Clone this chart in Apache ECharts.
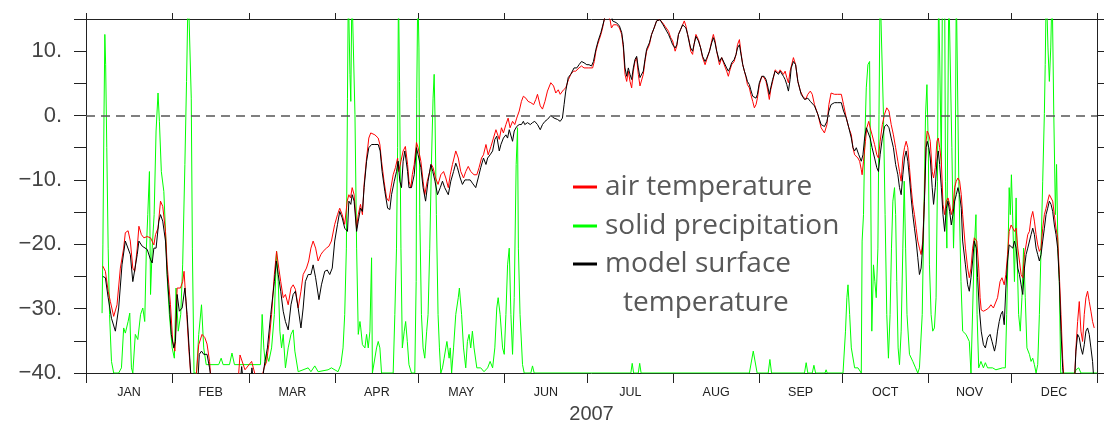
<!DOCTYPE html>
<html>
<head>
<meta charset="utf-8">
<script src="https://cdn.jsdelivr.net/npm/echarts@6/dist/echarts.min.js"></script>
<style>
html,body{margin:0;padding:0;background:#fff;}
#main{width:1104px;height:425px;}
</style>
</head>
<body>
<div id="main"></div>
<script>
// ---- tick labels / categories ----
const monthNames = ['JAN','FEB','MAR','APR','MAY','JUN','JUL','AUG','SEP','OCT','NOV','DEC'];
const monthStarts = [0,31,59,90,120,151,181,212,243,273,304,334,365];
const monthMids = [15.5,45,74.5,105,135.5,166,196.5,227.5,258,288.5,319,349.5];
const yearLabel = '2007';
const legendNames = ['air temperature','solid precipitation','model surface','temperature'];

// ---- series: [day of year, value] ----
const airTemperature = [
[6.1,-23.4],[7.0,-24.2],[8.0,-27.3],[8.8,-28.9],[10.0,-31.2],[11.2,-29.4],[12.4,-23.7],[13.6,-20.6],[14.2,-18.2],[15.2,-17.9],[16.0,-19.5],[16.9,-23.7],[17.6,-24.2],[18.5,-20.6],[19.1,-17.2],[20.0,-18.5],[20.9,-19.0],[22.1,-18.8],[23.3,-19.0],[24.5,-20.1],[25.1,-18.5],[26.0,-17.5],[26.9,-13.3],[27.7,-14.1],[28.7,-18.0],[29.3,-23.2],[29.9,-26.3],[30.5,-29.4],[31.3,-35.1],[32.1,-36.6],[32.9,-26.8],[34.1,-26.8],[34.9,-25.8],[35.4,-24.2],[36.1,-28.9],[37.1,-36.1],[38.1,-42],[39.5,-42],[40.7,-35.6],[41.9,-34.0],[42.9,-34.5],[43.7,-35.5],[44.6,-38.2],[45.3,-42],[54.8,-42],[55.6,-37.2],[57.4,-39.5],[59.8,-38.2],[61.2,-40.5],[62.8,-42],
[64.3,-39.2],[65.2,-38.2],[66.0,-35.6],[67.0,-30.9],[68.0,-24.7],[68.8,-21.1],[69.6,-23.7],[70.3,-25.8],[71.2,-28.3],[72.0,-27.8],[73.0,-29.4],[74.0,-26.8],[74.8,-26.3],[75.6,-27.0],[76.6,-29.9],[77.6,-27.3],[78.4,-24.7],[79.6,-23.7],[80.4,-22.6],[81.2,-20.6],[82.0,-19.5],[82.9,-20.6],[83.8,-22.6],[84.8,-21.6],[85.6,-21.1],[86.8,-20.6],[87.7,-20.3],[88.6,-19.5],[89.8,-16.9],[90.8,-15.4],[91.6,-14.4],[92.5,-15.4],[93.4,-16.9],[94.3,-13.3],[94.9,-12.3],[95.5,-12.8],[96.1,-11.2],[96.8,-12.3],[97.7,-17.5],[98.3,-15.4],[99.1,-13.8],[99.8,-15.4],[100.4,-10.7],[101.3,-6.6],[102.1,-3.5],[102.8,-2.7],[104.3,-3.0],[105.5,-3.5],[106.1,-4.5],[106.7,-7.1],[107.6,-10.2],[108.5,-12.8],[109.3,-13.3],[110.1,-11.2],[110.9,-9.2],[111.7,-8.1],[112.5,-6.6],[112.9,-8.7],[113.7,-7.1],[114.5,-5.5],[115.3,-4.8],[116.1,-7.6],[116.6,-10.2],[117.3,-11.2],[117.8,-9.2],[118.5,-7.6],[119.3,-4.2],[119.9,-5.0],[120.9,-7.1],[121.7,-10.2],[122.3,-12.3],[123.2,-10.2],[124.1,-8.7],[124.7,-7.6],[125.3,-8.1],[126.2,-9.7],[127.1,-10.7],
[128.1,-9.2],[129.1,-8.7],[129.9,-9.7],[130.8,-11.2],[131.5,-9.2],[132.3,-7.6],[133.5,-5.5],[134.4,-6.6],[135.3,-8.7],[136.3,-9.7],[137.1,-8.7],[138.0,-7.9],[138.9,-8.7],[140.1,-9.2],[141.1,-9.2],[141.9,-8.1],[142.8,-6.6],[143.5,-6.1],[144.4,-4.5],[145.2,-6.1],[146.2,-4.8],[147.1,-3.5],[148.0,-2.2],[148.6,-2.4],[149.2,-3.7],[150.0,-1.9],[150.7,-2.7],[151.6,-1.4],[152.4,-0.4],[153.1,-1.9],[154.0,-0.9],[154.8,-1.4],[155.5,-0.4],[156.4,0.7],[157.2,2.2],[157.9,3.0],[158.8,2.7],[159.6,2.2],[160.6,2.0],[161.6,1.7],[162.4,2.5],[163.0,3.3],[164.0,1.5],[164.8,1.0],[165.7,2.2],[166.6,3.8],[167.8,5.1],[168.8,4.6],[169.6,3.5],[170.5,4.0],[171.2,3.3],[172.4,4.0],[173.2,4.3],[174.2,5.6],[175.0,6.4],[176.0,6.9],[176.8,6.9],[178.0,7.4],[178.9,7.7],[179.8,7.4],[181.3,7.4],[182.9,7.4],[183.5,8.4],[184.1,10.0],[184.7,11.0],[185.3,11.8],[185.9,12.6],[186.5,13.6],[187.1,14.9],[187.7,16],[188.3,16],[189.2,14.9],[189.7,13.6],
[190.4,14.1],[191.6,14.1],[192.6,13.6],[193.4,12.6],[194.0,10.5],[194.6,6.4],[195.2,5.3],[195.8,6.9],[196.4,5.3],[197.0,4.3],[197.6,6.9],[198.2,8.4],[198.8,9.0],[199.4,6.4],[200.0,4.6],[200.6,4.6],[201.2,6.4],[201.8,8.4],[202.4,10.0],[203.4,11.0],[204.2,12.6],[205.1,13.6],[206.0,14.7],[207.2,14.9],[208.2,14.4],[209.0,13.9],[210.3,13.1],[211.1,12.1],[211.8,11.6],[212.7,10.0],[213.3,10.8],[213.9,12.6],[214.7,13.4],[215.4,14.1],[216.0,14.7],[216.6,13.9],[217.2,12.6],[217.8,11.6],[218.3,10.0],[219.0,9.5],[219.5,11.0],[220.2,12.6],[221.1,11.8],[221.9,10.5],[222.6,9.0],[223.5,7.9],[224.1,8.7],[225.1,10.0],[225.9,11.6],[226.5,12.6],[227.1,11.6],[227.7,10.0],[228.7,7.9],[229.5,9.0],[230.4,7.9],[231.3,6.9],[231.9,6.1],[232.5,7.1],[233.1,7.9],[234.0,8.4],[234.7,9.5],[235.2,11.0],[235.9,11.8],[236.4,10.0],[237.1,7.9],[237.7,6.9],[238.3,5.9],[238.8,4.8],[239.5,4.3],[240.0,3.3],[240.7,2.2],[241.3,1.2],[241.9,1.7],[242.4,2.7],[243.1,4.8],[244.0,6.1],[244.8,5.9],[245.5,5.3],[246.1,4.0],[246.7,2.5],[247.2,4.0],[247.9,5.3],[248.8,7.1],[249.4,7.4],[250.0,6.6],[250.6,7.1],[251.2,7.4],[251.8,6.4],[252.4,6.9],[253.0,5.9],[253.6,5.1],[254.2,6.9],
[255.4,9.0],[256.2,7.9],[257.0,5.3],[257.9,3.8],[258.8,3.0],[259.8,2.5],[260.6,3.3],[261.5,3.8],[262.2,3.3],[263.0,1.7],[264.2,0.2],[265.4,-1.9],[266.6,-2.7],[267.5,-1.4],[268.2,1.7],[269.0,3.5],[270.2,3.3],[271.4,3.3],[272.7,3.3],[273.5,1.7],[274.5,-0.4],[275.4,-1.9],[276.3,-3.0],[276.9,-5.0],[277.5,-6.1],[278.1,-5.8],[278.7,-6.6],[279.3,-7.1],[279.9,-8.4],[280.2,-9.2],[280.7,-7.1],[281.4,-4.0],[281.9,-1.9],[282.6,-0.9],[283.1,-1.9],[283.8,-3.0],[284.7,-4.5],[285.5,-6.1],[286.1,-6.6],[286.7,-4.0],[287.5,-1.4],[288.3,0.2],[289.1,1.2],[289.9,0.7],[290.7,-1.4],[291.5,-3.0],[292.3,-5.0],[293.1,-7.1],[293.7,-8.7],[294.3,-10.2],[294.9,-6.6],[295.5,-5.0],[296.1,-4.0],[296.7,-5.0],[297.3,-8.1],[297.9,-11.2],[298.5,-13.8],[299.1,-15.4],[299.7,-17.5],[300.3,-19.5],[300.9,-20.6],[301.5,-21.6],[302.1,-19.5],[302.7,-12.8],[303.3,-4.0],[303.7,-2.4],[304.3,-3.0],[304.8,-4.0],[305.5,-8.7],[306.0,-9.7],[306.6,-8.1],[307.2,-4.0],[307.7,-3.5],[308.2,-5.0],[308.8,-7.1],[309.4,-13.8],[310.0,-15.4],[310.6,-13.3],[311.2,-12.8],[311.8,-13.8],[312.4,-15.4],[313.0,-14.4],[313.6,-11.2],[314.2,-10.2],[314.8,-9.7],[315.4,-10.2],[316.0,-12.3],
[316.5,-15.4],[317.5,-20.6],[318.3,-23.7],[318.9,-25.2],[319.5,-23.7],[320.1,-20.6],[320.7,-19.0],[321.6,-19.5],[322.3,-23.7],[322.8,-28.3],[323.2,-30.2],[324.0,-30.4],[324.9,-30.2],[325.9,-29.9],[326.7,-29.4],[327.6,-29.9],[328.3,-29.9],[329.1,-28.3],[330.0,-25.8],[330.7,-25.2],[331.5,-26.3],[332.1,-24.7],[332.7,-21.6],[333.3,-18.0],[334.0,-17.0],[334.6,-17.5],[335.2,-18.0],[335.8,-17.5],[336.4,-20.6],[337.0,-22.6],[337.6,-24.7],[338.2,-25.2],[338.8,-21.6],[339.4,-20.1],[340.0,-18.5],[340.6,-18.0],[341.2,-15.9],[341.8,-14.9],[342.4,-16.4],[343.0,-18.5],[343.6,-20.1],[344.2,-21.1],[344.8,-20.6],[345.4,-17.5],[346.0,-15.4],[346.6,-14.4],[347.2,-13.3],[347.8,-12.3],[348.4,-12.8],[349.0,-13.3],[349.6,-15.4],[350.2,-17.5],[350.8,-19.0],[351.4,-24.7],[352.0,-30.9],[352.6,-37.7],[353.2,-42],[356.8,-42],[357.4,-36.1],[358.0,-32.0],[358.6,-28.9],[359.2,-33.5],[359.8,-35.1],[360.4,-30.9],[361.0,-28.3],[361.6,-27.3],[362.2,-28.9],[362.8,-30.4],[363.4,-32.0],[364.0,-33.0]
];

const modelSurfaceTemperature = [
[6.1,-25.0],[7.0,-25.2],[8.0,-28.3],[9.2,-31.5],[10.6,-33.5],[11.8,-29.9],[13.0,-23.2],[14.2,-19.5],[14.8,-19.3],[16.0,-21.6],[16.9,-25.8],[17.6,-25.5],[18.5,-21.6],[19.1,-19.5],[20.3,-20.3],[22.1,-20.8],[23.3,-22.4],[23.9,-22.9],[24.5,-20.6],[25.3,-20.6],[26.3,-16.4],[26.9,-15.4],[27.7,-16.4],[28.7,-19.5],[29.3,-24.7],[30.1,-29.4],[30.8,-34.0],[31.7,-36.1],[32.3,-35.1],[32.9,-27.8],[33.7,-30.4],[34.7,-29.9],[35.7,-26.8],[36.5,-30.9],[37.3,-36.6],[38.1,-42],[40.3,-42],[40.9,-37.1],[41.7,-36.6],[42.5,-37.1],[43.7,-37.1],[44.6,-39.2],[45.5,-42],[55.6,-42],[56.2,-39.0],[56.9,-42],[59.4,-42],[59.9,-39.2],[60.6,-42],
[63.4,-42],[64.6,-38.2],[65.5,-36.1],[66.7,-30.9],[68.0,-25.8],[68.7,-22.6],[69.4,-24.7],[70.3,-27.3],[71.2,-30.4],[72.0,-32.0],[73.0,-33.3],[74.0,-29.4],[74.8,-27.8],[75.6,-27.3],[76.6,-29.9],[77.6,-33.0],[78.4,-29.9],[79.2,-25.8],[80.2,-24.7],[81.2,-24.7],[82.0,-23.2],[82.9,-25.2],[84.1,-28.6],[85.0,-26.3],[86.2,-24.2],[87.1,-24.0],[88.0,-24.7],[88.9,-23.7],[89.8,-19.5],[90.8,-16.9],[91.6,-14.9],[92.5,-15.9],[93.4,-17.5],[94.4,-18.0],[94.9,-13.3],[95.6,-13.8],[96.1,-12.3],[96.8,-13.3],[97.7,-18.0],[98.3,-16.4],[99.1,-14.4],[99.8,-14.9],[100.4,-11.2],[101.3,-7.1],[102.1,-5.0],[103.1,-4.5],[104.3,-4.5],[105.5,-4.5],[106.2,-5.5],[106.9,-8.7],[107.9,-11.8],[108.9,-14.4],[109.7,-14.6],[110.3,-12.3],[111.3,-10.2],[112.1,-8.7],[112.7,-7.1],[113.3,-10.2],[113.9,-11.2],[114.5,-7.1],[115.1,-5.5],[116.1,-8.7],[116.6,-11.2],[117.5,-11.2],[118.5,-9.2],[119.3,-5.0],[119.9,-6.1],[120.9,-8.1],[121.7,-11.2],[122.6,-13.3],[123.5,-10.2],[124.5,-7.6],[125.2,-8.7],[126.0,-10.2],[126.9,-12.3],
[127.9,-11.2],[128.7,-10.2],[129.5,-11.2],[130.8,-12.3],[131.7,-10.2],[132.7,-8.7],[133.5,-7.4],[134.1,-8.1],[135.1,-9.7],[135.9,-10.7],[136.8,-10.0],[137.7,-10.0],[138.7,-10.0],[139.5,-10.5],[140.7,-11.2],[141.6,-9.7],[142.5,-8.1],[143.5,-6.6],[144.4,-7.6],[145.0,-6.6],[145.9,-6.1],[146.8,-5.5],[147.6,-3.7],[148.3,-3.2],[149.2,-5.5],[149.8,-4.5],[150.7,-3.5],[151.6,-3.0],[152.2,-3.5],[152.8,-2.2],[153.4,-2.4],[154.0,-4.0],[154.6,-2.4],[155.5,-1.7],[156.4,-1.4],[157.2,-1.4],[157.9,-0.9],[158.4,-1.4],[159.4,-1.1],[160.4,-1.4],[161.2,-1.1],[162.0,-0.9],[163.0,-1.4],[164.0,-2.2],[164.8,-1.4],[165.7,-0.9],[166.6,-0.6],[167.8,0],[169.0,-0.4],[170.2,-0.6],[171.2,-0.9],[172.0,-0.4],[172.6,1.7],[173.2,3.8],[174.1,5.9],[175.0,6.4],[176.2,7.4],[177.2,7.4],[178.0,7.9],[178.9,8.4],[179.8,8.2],[180.8,7.9],[181.6,7.9],[182.5,7.7],[183.2,8.4],[184.1,10.3],[184.9,11.6],[185.9,12.9],[186.5,13.9],[187.1,14.9],[187.7,16],[189.5,16],[190.1,14.7],
[191.6,14.4],[192.6,13.9],[193.4,12.9],[194.0,11.0],[194.6,7.4],[195.2,6.1],[195.8,7.4],[196.4,6.4],[197.0,5.6],[197.6,7.4],[198.2,8.7],[198.8,9.2],[199.4,7.4],[200.0,5.9],[200.6,5.6],[201.2,6.9],[201.8,8.7],[202.4,10.3],[203.4,11.3],[204.2,12.6],[205.1,13.6],[206.0,14.7],[207.2,14.9],[208.2,14.2],[209.0,13.6],[210.3,12.6],[211.1,11.8],[211.8,11.0],[212.7,10.5],[213.3,11.0],[213.9,12.6],[214.7,13.4],[215.4,14.1],[216.0,14.4],[216.6,13.6],[217.2,12.6],[217.8,11.3],[218.3,10.5],[219.0,10.0],[219.5,11.0],[220.2,12.3],[221.1,11.6],[221.9,10.5],[222.6,9.2],[223.5,8.4],[224.1,8.9],[225.1,10.0],[225.9,11.3],[226.5,12.1],[227.1,11.3],[227.7,10.0],[228.7,8.4],[229.5,9.0],[230.4,8.2],[231.3,7.4],[231.9,6.9],[232.5,7.4],[233.1,8.2],[234.0,8.7],[234.7,9.5],[235.2,10.5],[235.9,11.0],[236.4,9.7],[237.1,7.9],[237.7,6.9],[238.3,6.1],[238.8,5.3],[239.5,4.8],[240.0,4.0],[240.7,3.0],[241.3,2.7],[241.9,2.7],[242.4,3.3],[243.1,5.1],[244.0,6.1],[244.8,6.1],[245.5,5.6],[246.1,4.6],[246.7,3.3],[247.2,4.3],[247.9,5.6],[248.8,6.9],[249.4,7.1],[250.0,6.4],[250.6,6.9],[251.2,7.1],[251.8,6.1],[252.4,5.6],[253.0,4.8],[253.6,3.8],[254.2,5.6],
[254.6,7.4],[255.4,8.4],[256.2,7.9],[257.0,5.3],[258.2,3.3],[259.4,2.5],[260.6,2.7],[261.5,2.2],[262.2,2.0],[263.0,1.5],[264.2,0.2],[265.4,-1.4],[266.6,-1.7],[267.5,-0.9],[268.2,0.7],[269.0,1.7],[270.2,2.0],[271.4,2.0],[272.7,2.0],[273.5,0.7],[274.5,-0.4],[275.4,-1.9],[276.3,-3.5],[276.9,-5.0],[277.5,-5.5],[278.1,-5.0],[279.0,-6.1],[279.9,-7.1],[280.5,-6.1],[281.1,-3.5],[281.7,-1.9],[282.4,-2.2],[283.1,-3.5],[283.8,-5.0],[284.7,-6.6],[285.5,-8.1],[286.1,-8.7],[286.7,-6.1],[287.5,-3.5],[288.3,-1.7],[289.1,-1.4],[289.9,-1.9],[290.7,-3.5],[291.5,-5.0],[292.3,-7.6],[293.1,-9.2],[293.7,-11.2],[294.3,-12.3],[294.9,-9.2],[295.5,-6.6],[296.1,-5.5],[296.7,-7.1],[297.3,-9.7],[297.9,-12.8],[298.5,-15.4],[299.1,-17.5],[299.7,-19.5],[300.3,-22.1],[300.9,-24.7],[301.5,-23.7],[302.1,-20.1],[302.7,-13.3],[303.3,-5.0],[303.7,-4.0],[304.3,-5.0],[304.8,-6.6],[305.5,-11.2],[306.0,-13.8],[306.6,-11.2],[307.2,-7.1],[307.7,-5.5],[308.2,-7.6],[308.8,-11.2],[309.4,-15.4],[310.0,-18.0],[310.6,-14.4],[311.2,-13.3],[311.8,-14.9],[312.4,-17.0],[313.0,-15.4],[313.6,-13.3],[314.2,-12.3],[314.8,-11.2],[315.4,-12.3],[316.0,-14.4],
[316.5,-19.5],[317.5,-23.2],[318.3,-26.3],[318.9,-27.3],[319.5,-25.2],[320.1,-22.6],[320.7,-19.5],[321.4,-20.6],[321.9,-25.2],[322.5,-29.9],[323.2,-33.5],[324.0,-35.6],[324.7,-36.1],[325.5,-34.5],[326.4,-34.0],[327.1,-35.1],[328.0,-36.6],[328.5,-35.6],[329.1,-33.5],[329.7,-32.0],[330.3,-30.9],[330.9,-30.4],[331.5,-32.5],[332.1,-26.8],[332.7,-22.6],[333.3,-20.1],[334.0,-20.1],[334.6,-20.6],[335.2,-19.5],[335.8,-20.6],[336.4,-23.7],[337.0,-24.7],[337.6,-26.3],[338.2,-27.8],[338.8,-23.7],[339.4,-21.6],[340.0,-20.6],[340.6,-20.6],[341.2,-18.5],[341.8,-17.5],[342.4,-18.5],[343.0,-20.6],[343.6,-21.6],[344.2,-22.6],[344.8,-21.6],[345.4,-19.5],[346.0,-17.5],[346.6,-15.4],[347.2,-14.4],[347.8,-13.3],[348.4,-13.8],[349.0,-14.9],[349.6,-17.0],[350.2,-18.5],[350.8,-20.6],[351.4,-25.8],[352.0,-33.5],[352.6,-39.2],[353.2,-42],[356.8,-42],[357.4,-36.6],[358.0,-34.0],[358.6,-34.5],[359.2,-36.1],[359.8,-37.1],[360.4,-35.6],[361.0,-33.5],[361.6,-33.0],[362.2,-34.0],[362.8,-36.1],[363.4,-38.2],[364.0,-42]
];

const solidPrecipitation = [
[5.8,-30.7],[6.1,-20.1],[6.5,0.2],[6.8,12.6],[7.1,7.9],[7.5,-5.0],[8.0,-20.6],[8.5,-30.9],[9.2,-38.2],[10.0,-40],[11.8,-40],[12.8,-39.2],[13.6,-33.0],[14.2,-33.8],[15.2,-32.0],[15.8,-30.7],[16.4,-39.2],[16.9,-40],[17.8,-34.0],[18.7,-34.8],[19.7,-30.9],[20.5,-29.9],[21.2,-32.0],[21.8,-20.6],[22.3,-15.4],[22.9,-8.7],[23.3,-27.8],[23.9,-20.6],[24.6,-15.4],[25.3,-2.4],[26.0,3.5],[26.5,-0.9],[27.2,-8.7],[28.1,-11.8],[28.7,-18.0],[29.4,-25.8],[30.1,-30.9],[31.1,-36.1],[31.9,-37.7],[32.5,-26.8],[33.3,-33.5],[34.2,-30.9],[34.9,-23.2],[35.7,-7.6],[36.3,5.3],[36.9,20],[37.5,20],[38.0,2.7],[38.4,-20.6],[39.0,-40],[39.9,-40],[40.7,-34.0],[41.7,-29.4],[42.5,-36.1],[43.4,-38.7],[47.9,-38.7],[48.8,-37.7],[49.5,-38.7],[51.8,-38.7],[52.7,-36.9],[53.6,-38.7],[63.0,-38.7],[63.6,-30.9],
[64.2,-36.1],[64.8,-38.7],[65.2,-37.1],[66.0,-38.2],[67.0,-36.1],[68.0,-30.9],[68.8,-21.1],[69.4,-25.8],[70.0,-33.5],[70.6,-36.1],[71.2,-34.0],[72.0,-39.2],[73.0,-36.1],[74.0,-34.0],[74.8,-33.3],[75.4,-36.6],[76.6,-39.8],[80.2,-39.2],[81.2,-39.8],[82.6,-38.9],[83.8,-39.8],[87.4,-39.5],[88.6,-39.2],[91.0,-39.8],[92.0,-38.7],[92.8,-36.1],[93.4,-30.9],[94.0,-20.6],[94.4,2.7],[94.7,20],[95.0,20],[95.3,6.4],[95.6,2.2],[96.0,20],[96.7,20],[97.1,0.2],[97.7,-20.6],[98.3,-34.0],[98.9,-32.0],[99.2,-33.0],[99.8,-35.6],[100.7,-36.1],[101.3,-34.0],[101.9,-36.1],[102.5,-33.5],[103.1,-22.1],[103.4,-40],[104.9,-36.1],[105.5,-35.1],[106.1,-36.1],[106.7,-40],[110.9,-40],[111.5,-30.9],[112.1,-20.6],[112.5,-5.0],[112.8,20],[113.2,5.3],[113.7,-20.6],[114.2,-36.1],[114.9,-33.5],[115.4,-32.0],[116.0,-35.1],[116.6,-38.7],[117.5,-40],[118.7,-40],[119.2,-25.8],[119.4,2.7],[119.8,20],[120.2,10.5],[120.5,-15.4],[121.1,-30.9],[121.7,-36.1],[122.3,-37.7],[123.0,-33.5],[123.5,-30.9],[124.1,-20.6],[124.7,-7.6],[125.3,2.7],[125.7,6.4],[126.0,-0.2],[126.5,-15.4],[127.1,-30.9],[127.6,-36.1],[128.1,-40],
[128.7,-39.2],[129.3,-37.7],[129.9,-36.1],[130.3,-35.1],[131.1,-37.7],[131.5,-36.1],[132.0,-40],[132.7,-36.1],[133.5,-30.9],[134.4,-28.3],[134.8,-26.8],[135.6,-30.9],[136.3,-36.1],[137.1,-39.2],[137.7,-35.1],[138.3,-34.0],[138.9,-36.1],[139.5,-33.5],[140.1,-36.1],[141.1,-39.2],[142.5,-39.2],[143.7,-39.8],[145.0,-39.2],[145.9,-38.2],[146.8,-39.2],[147.6,-36.1],[148.3,-29.9],[148.8,-28.3],[149.5,-30.9],[150.4,-36.1],[151.0,-37.1],[151.6,-30.9],[152.2,-23.2],[152.8,-20.6],[153.4,-30.9],[154.0,-37.1],[154.6,-28.3],[155.3,-7.6],[155.8,-1.9],[156.1,-20.6],[156.7,-30.9],[157.6,-38.7],[158.2,-40],[160.6,-40],[161.2,-38.9],[161.8,-40],
[196.7,-40],[197.2,-38.5],[197.7,-40],[199.4,-40],[199.9,-38.5],[200.4,-40],[239.5,-40],[240.9,-36.6],[242.3,-40],[246.3,-40],[246.9,-37.9],[247.5,-40],
[259.4,-40],[260.0,-38.4],[260.6,-40],[262.2,-40],[262.8,-38.8],[263.4,-40],[266.8,-40],[267.2,-39.5],[267.6,-40],[273.3,-40],[274.2,-33.5],[274.7,-28.3],[275.1,-26.3],[275.7,-30.9],[276.3,-36.1],[277.5,-39.2],[278.7,-39.2],[279.9,-40],[280.2,-19.5],[280.7,-15.4],[281.1,-5.0],[281.7,4.3],[282.3,7.9],[282.9,8.4],[283.2,-5.0],[283.7,-33.5],[284.3,-23.2],[284.8,-25.8],[285.3,-28.3],[285.9,-20.6],[286.3,0.2],[286.7,20],[287.3,20],[287.9,0.2],[288.5,-15.4],[289.1,-30.9],[289.7,-37.7],[290.3,-30.9],[290.8,-20.6],[291.3,-13.3],[291.9,-11.2],[292.3,-15.4],[292.7,-25.8],[293.2,-36.1],[293.7,-38.7],[294.3,-33.5],[294.9,-20.6],[295.4,-10.2],[295.9,-20.6],[296.4,-30.9],[297.3,-37.1],[298.5,-38.2],[299.5,-39.2],[300.3,-40],[300.9,-39.2],[301.9,-30.9],[302.5,-15.4],[303.1,0.2],[303.6,4.8],[304.1,-5.0],[304.5,-23.2],[305.1,-30.9],[305.7,-33.5],[306.3,-33.0],[306.9,-28.3],[307.4,-10.2],[307.8,20],[308.4,20],[308.8,-7.6],[309.2,20],[310.0,20],[310.3,-10.2],[310.8,-20.6],[311.5,20],[312.1,20],[312.6,-5.0],[313.2,-20.6],[313.8,-10.2],[314.2,20],[314.8,20],[315.1,-10.2],
[315.9,-25.8],[316.5,-33.5],[317.7,-34.0],[318.9,-35.1],[319.5,-40],[320.1,-40],[320.7,-20.6],[321.3,-15.4],[321.7,-30.9],[322.3,-39.2],[323.1,-38.2],[324.0,-39.2],[324.7,-38.4],[325.5,-39.2],[327.3,-39.2],[328.5,-39.5],[330.9,-39.2],[331.9,-39.2],[332.4,-30.9],[332.9,-20.6],[333.3,-11.2],[333.7,-15.4],[334.1,-9.2],[334.6,-16.4],[335.2,-25.8],[335.8,-12.8],[336.1,-20.6],[336.7,-30.9],[337.3,-33.5],[337.9,-28.3],[338.5,-20.6],[339.1,-28.3],[339.7,-36.1],[340.6,-37.1],[341.2,-38.2],[341.8,-37.7],[342.4,-38.7],[343.0,-40],[343.6,-38.7],[344.2,-30.9],[344.8,-20.6],[345.4,-10.2],[346.0,0.3],[346.3,7.9],[346.7,20],[347.3,10.5],[347.8,5.3],[348.3,10.5],[348.8,20],[349.4,0.2],[350.0,-15.4],[350.4,-7.6],[350.9,-20.6],[351.4,-25.8],[351.9,-40],[357.0,-40],[357.4,-39.5],[358.4,-39.2],[359.2,-40],[365,-40]
];

// ---- chart ----
const chart = echarts.init(document.getElementById('main'), null, {renderer: 'canvas'});
const axisColor = '#222';
const tickFont = 'Liberation Sans';

function nearestIndex(arr, v) {
  let best = -1, bd = 1e9;
  arr.forEach((a, i) => { const d = Math.abs(a - v); if (d < bd) { bd = d; best = i; } });
  return bd < 0.01 ? best : -1;
}

const legendX = 573, legendTextX = 605, legendY = [187, 226, 264, 303];
const legendColors = ['#ff0000', '#00ff00', '#000000'];

const option = {
  animation: false,
  backgroundColor: '#ffffff',
  grid: {left: 86, right: 7, top: 19, bottom: 52, containLabel: false, outerBoundsMode: 'none'},
  xAxis: [
    {
      type: 'value', min: 0, max: 365, position: 'bottom',
      axisLine: {show: true, onZero: false, lineStyle: {color: axisColor, width: 1}},
      axisTick: {show: true, customValues: monthStarts, length: 10, inside: false, lineStyle: {color: axisColor, width: 1}},
      axisLabel: {
        show: true, customValues: monthMids, margin: 13,
        fontFamily: tickFont, fontSize: 12.5, color: '#222',
        formatter: v => { const i = nearestIndex(monthMids, v); return i >= 0 ? monthNames[i] : ''; }
      },
      splitLine: {show: false},
      name: yearLabel, nameLocation: 'middle', nameGap: 31,
      nameTextStyle: {fontFamily: tickFont, fontSize: 20, color: '#444'}
    },
    {
      type: 'value', min: 0, max: 365, position: 'top',
      axisLine: {show: true, onZero: false, lineStyle: {color: axisColor, width: 1}},
      axisTick: {show: true, customValues: monthStarts, length: 6, lineStyle: {color: axisColor, width: 1}},
      axisLabel: {show: false},
      splitLine: {show: false}
    }
  ],
  yAxis: [
    {
      type: 'value', min: -40, max: 15, interval: 5, position: 'left',
      axisLine: {show: true, onZero: false, lineStyle: {color: axisColor, width: 1}},
      axisTick: {show: true, length: 12, lineStyle: {color: axisColor, width: 1}},
      axisLabel: {
        margin: 24, fontFamily: tickFont, fontSize: 22, color: '#444',
        formatter: v => (v % 10 === 0) ? ((v < 0 ? '\u2212' + (-v) : String(v)) + '.') : ''
      },
      splitLine: {show: false}
    },
    {
      type: 'value', min: -40, max: 15, interval: 5, position: 'right',
      axisLine: {show: true, onZero: false, lineStyle: {color: axisColor, width: 1}},
      axisTick: {show: true, length: 12, lineStyle: {color: axisColor, width: 1}},
      axisLabel: {show: false},
      splitLine: {show: false}
    }
  ],
  series: [
    {
      name: 'solid precipitation', type: 'line', data: solidPrecipitation,
      xAxisIndex: 0, yAxisIndex: 0, showSymbol: false, symbol: 'none', clip: true,
      lineStyle: {color: '#00ff00', width: 1}, itemStyle: {color: '#00ff00'}, z: 2,
      markLine: {
        silent: true, symbol: ['none', 'none'], label: {show: false},
        lineStyle: {color: '#555', width: 1.6, type: [9, 6]},
        data: [{yAxis: 0}]
      }
    },
    {
      name: 'air temperature', type: 'line', data: airTemperature,
      xAxisIndex: 0, yAxisIndex: 0, showSymbol: false, symbol: 'none', clip: true,
      lineStyle: {color: '#ff0000', width: 1}, itemStyle: {color: '#ff0000'}, z: 3
    },
    {
      name: 'model surface temperature', type: 'line', data: modelSurfaceTemperature,
      xAxisIndex: 0, yAxisIndex: 0, showSymbol: false, symbol: 'none', clip: true,
      lineStyle: {color: '#000000', width: 1}, itemStyle: {color: '#000000'}, z: 4
    }
  ],
  graphic: [
    ...legendColors.map((c, i) => ({
      type: 'line', z: 100,
      shape: {x1: legendX, y1: legendY[i], x2: legendX + 24, y2: legendY[i]},
      style: {stroke: c, lineWidth: 3}
    })),
    ...legendNames.map((t, i) => ({
      type: 'text', z: 100,
      x: i === 3 ? legendTextX + 18 : legendTextX, y: legendY[i],
      style: {text: t, font: '28px "Open Sans"', fill: '#595959', verticalAlign: 'middle', textVerticalAlign: 'middle', align: 'left'}
    }))
  ]
};
chart.setOption(option);
</script>
</body>
</html>
